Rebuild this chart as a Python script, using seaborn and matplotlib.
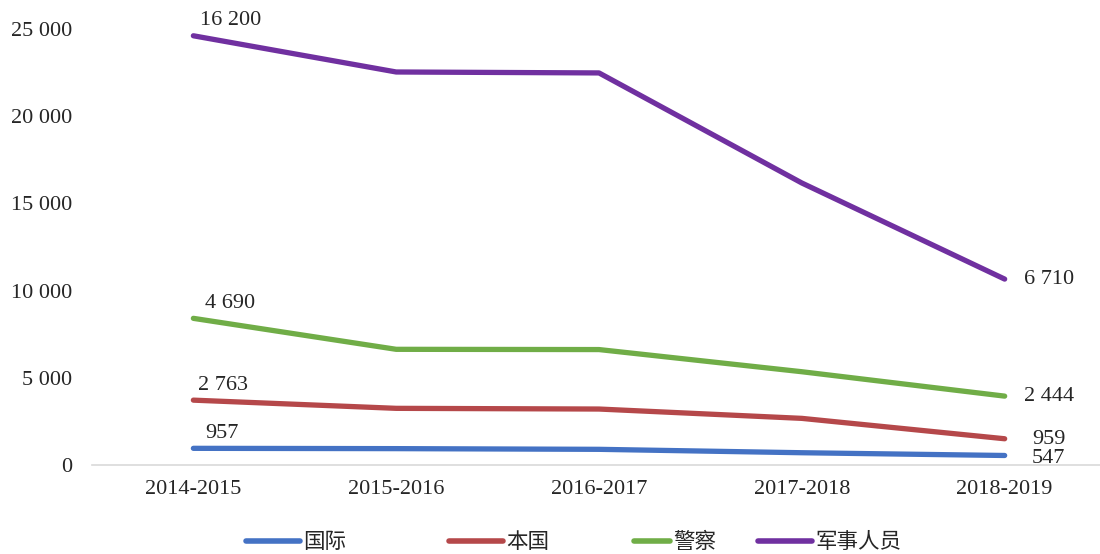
import numpy as np
import pandas as pd
import seaborn as sns
import matplotlib.pyplot as plt

# categories and values for each series (stacked line chart, labels show own values)
years = ['2014-2015', '2015-2016', '2016-2017', '2017-2018', '2018-2019']
series_names = ['国际', '本国', '警察', '军事人员']
intl = [957, 940, 900, 705, 547]
domestic = [2763, 2310, 2310, 1970, 959]
police = [4690, 3384, 3410, 2674, 2444]
military = [16200, 15900, 15860, 10820, 6710]
colors = ['#4472C4', '#B5484A', '#70AD47', '#7030A0']

sns.set_theme(style='white')
plt.rcParams['font.family'] = ['Liberation Serif', 'Noto Sans CJK SC', 'DejaVu Sans']
plt.rcParams['font.size'] = 16

vals = np.array([intl, domestic, police, military])
stacked = vals.cumsum(axis=0)

rows = []
for i, name in enumerate(series_names):
    for j, yr in enumerate(years):
        rows.append({'year': yr, 'x': j, 'series': name, 'value': stacked[i, j]})
df = pd.DataFrame(rows)

fig = plt.figure(figsize=(11, 5.54), dpi=100)
ax = fig.add_axes([0.0836, 0.1606, 0.9164, 0.7871])

sns.lineplot(data=df, x='x', y='value', hue='series', hue_order=series_names,
             palette=colors, linewidth=3.8, ax=ax, legend=True,
             solid_capstyle='round')

def fmt(v):
    return f'{v:,}'.replace(',', ' ')

# data labels on first and last points
first_dx = [12, 5, 12, 7]
last_dy = [-3, -1, 0, 0]
for i in range(len(series_names)):
    ax.annotate(fmt(vals[i, 0]), (0, stacked[i, 0]),
                xytext=(first_dx[i], 15), textcoords='offset pixels', ha='left',
                va='center', annotation_clip=False)
    ax.annotate(fmt(vals[i, -1]), (4, stacked[i, -1]),
                xytext=(44, last_dy[i]), textcoords='offset pixels', ha='center',
                va='center', annotation_clip=False)

ax.set_xlim(-0.5, 4.47)
ax.set_ylim(0, 25000)
ax.set_yticks(range(0, 25001, 5000))
ax.set_yticklabels([fmt(v) for v in range(0, 25001, 5000)])
ax.set_xticks(range(len(years)))
ax.set_xticklabels(years)
ax.set_xlabel('')
ax.set_ylabel('')
ax.tick_params(axis='both', length=0, labelsize=16)
ax.tick_params(axis='y', pad=14)
ax.tick_params(axis='x', pad=11)
for s in ['top', 'right', 'left']:
    ax.spines[s].set_visible(False)
ax.spines['bottom'].set_color('#D9D9D9')
ax.spines['bottom'].set_linewidth(1.2)

# legend entries placed one by one, like the original's uneven spacing
handles, labels = ax.get_legend_handles_labels()
ax.legend_.remove()
legend_x = [242, 445, 630, 754]
handle_len = [2.5, 2.5, 1.65, 2.5]
for h, lab, lx, hl in zip(handles, labels, legend_x, handle_len):
    leg = fig.legend([h], [lab], loc='center left', bbox_to_anchor=(lx / 1100, 0.021),
                     frameon=False, handlelength=hl, handletextpad=0.15,
                     borderpad=0.2, borderaxespad=0,
                     prop={'family': ['Noto Sans CJK SC'], 'size': 15.5})
    leg.legend_handles[0].set_linewidth(4)

fig.savefig('out.png', dpi=100)
